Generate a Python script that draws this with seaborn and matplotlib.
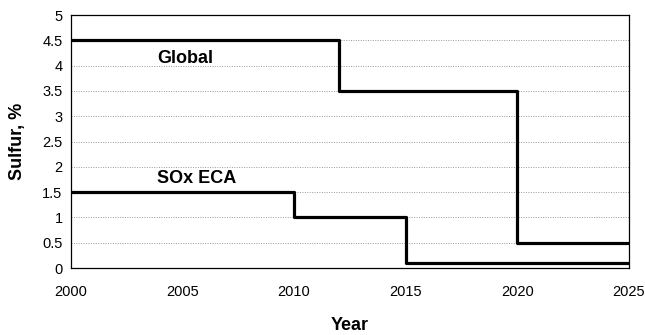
import pandas as pd
import matplotlib
matplotlib.use('Agg')
import matplotlib.pyplot as plt
import seaborn as sns

# Sulfur limits (step changes)
global_years = [2000, 2012, 2020, 2025]
global_sulfur = [4.5, 3.5, 0.5, 0.5]
eca_years = [2000, 2010, 2015, 2025]
eca_sulfur = [1.5, 1.0, 0.1, 0.1]

sns.set_style('white')
plt.rcParams['font.family'] = ['Liberation Sans', 'DejaVu Sans']
plt.rcParams['text.color'] = 'black'
plt.rcParams['axes.labelcolor'] = 'black'
plt.rcParams['xtick.color'] = 'black'
plt.rcParams['ytick.color'] = 'black'

df = pd.concat([
    pd.DataFrame({'Year': global_years, 'Sulfur': global_sulfur, 'Limit': 'Global'}),
    pd.DataFrame({'Year': eca_years, 'Sulfur': eca_sulfur, 'Limit': 'SOx ECA'}),
])

fig = plt.figure(figsize=(6.45, 3.35), dpi=100)
ax = fig.add_axes([0.110, 0.200, 0.865, 0.755])

for name, grp in df.groupby('Limit'):
    sns.lineplot(data=grp, x='Year', y='Sulfur', ax=ax, color='black',
                 linewidth=2.3, drawstyle='steps-post', legend=False)

ax.set_xlim(2000, 2025)
ax.set_ylim(0, 5)
ax.set_xticks(range(2000, 2026, 5))
ax.set_yticks([i * 0.5 for i in range(11)])
ax.set_yticklabels(['0', '0.5', '1', '1.5', '2', '2.5', '3', '3.5', '4', '4.5', '5'])
ax.yaxis.grid(True, linestyle=(0, (1, 1.5)), color='#999999', linewidth=0.7)
ax.xaxis.grid(False)

for s in ax.spines.values():
    s.set_color('black')
    s.set_linewidth(0.9)
ax.tick_params(axis='both', direction='out', length=3, width=0.8,
               labelsize=10.5, color='black', pad=3)
ax.tick_params(axis='x', pad=9)

ax.set_xlabel('Year', fontsize=13, fontweight='bold')
ax.set_ylabel('Sulfur, %', fontsize=13, fontweight='bold')
ax.xaxis.set_label_coords(0.5, -0.195)
ax.yaxis.set_label_coords(-0.081, 0.5)

ax.text(2003.85, 4.05, 'Global', fontsize=13, fontweight='bold')
ax.text(2003.85, 1.68, 'SOx ECA', fontsize=13, fontweight='bold')

fig.savefig('out.png', dpi=100, facecolor='white')
